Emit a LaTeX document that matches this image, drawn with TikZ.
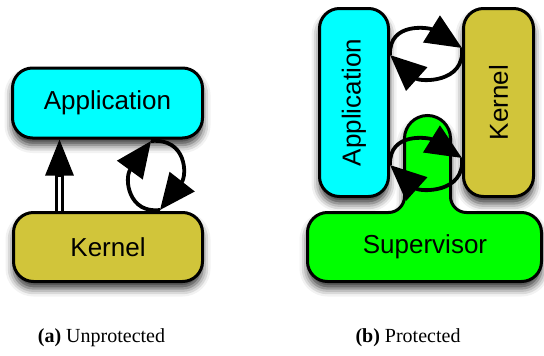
\documentclass[tikz,border=0pt]{standalone}
\usepackage{fontspec}
\setmainfont{Liberation Serif}
\setsansfont{Liberation Sans}
\usetikzlibrary{arrows.meta,shadows.blur}
\definecolor{appcyan}{RGB}{0,255,255}
\definecolor{kernolive}{RGB}{209,197,58}
\definecolor{supgreen}{RGB}{0,255,0}
\tikzset{
  boxshadow/.style={blur shadow={shadow xshift=0pt, shadow yshift=-7pt,
      shadow blur radius=8pt, shadow opacity=80}},
  box/.style={draw=black, line width=3pt, rounded corners=20pt, boxshadow,
      font=\sffamily\fontsize{26}{30}\selectfont, inner sep=0pt},
  loopline/.style={draw=black, opacity=1, line width=3.8pt,
      -{Triangle[length=36pt,width=31pt,fill=black]}},
  caption/.style={font=\fontsize{20}{24}\selectfont, anchor=base},
}
\begin{document}
\begin{tikzpicture}[x=1pt,y=1pt]
\useasboundingbox (0,0) rectangle (544,-356);

% ---------- (a) unprotected ----------
\node[box, fill=appcyan, minimum width=190pt, minimum height=70pt] (la) at (107.5,-103) {Application};
\node[box, fill=kernolive, minimum width=189pt, minimum height=69pt] (lk) at (108,-247) {Kernel};

% hollow upward arrow: double shaft, then the solid head
\draw[line width=2.5pt, double=white, double distance=3.5pt, shorten >=34pt]
  ([xshift=-48.5pt]lk.north) -- ([xshift=-48pt]la.south);
\draw[line width=3pt, -{Triangle[length=36pt,width=28pt]}, shorten <=34pt]
  ([xshift=-48.5pt]lk.north) -- ([xshift=-48pt]la.south);

% two-way exchange loop
\draw[loopline] ([shift={(52pt,1pt)}]lk.north)
  to[out=187,in=234,out distance=32pt,in distance=46pt] ([shift={(43.5pt,-1.5pt)}]la.south);
\draw[loopline] ([shift={(43.5pt,-1.5pt)}]la.south)
  to[out=5,in=52,out distance=36pt,in distance=44pt] ([shift={(52pt,1pt)}]lk.north);

% ---------- (b) protected ----------
\begin{scope}
\path[draw=black, line width=3pt, fill=supgreen, boxshadow]
  (327.5,-212.5) -- (388.5,-212.5) arc[start angle=270,end angle=360,radius=16]
  -- (404.5,-138.5) arc[start angle=180,end angle=0,radius=23]
  -- (450.5,-196.5) arc[start angle=180,end angle=270,radius=16]
  -- (521.5,-212.5) arc[start angle=90,end angle=0,radius=20]
  -- (541.5,-261.5) arc[start angle=0,end angle=-90,radius=20]
  -- (327.5,-281.5) arc[start angle=270,end angle=180,radius=20]
  -- (307.5,-232.5) arc[start angle=180,end angle=90,radius=20] -- cycle;
\end{scope}
\node[font=\sffamily\fontsize{26}{30}\selectfont] (sup) at (425,-247) {Supervisor};

\node[box, fill=appcyan, minimum width=69pt, minimum height=188pt] (ra) at (354,-102.5) {\rotatebox{90}{Application}};
\node[box, fill=kernolive, minimum width=70pt, minimum height=188pt] (rk) at (498.5,-102.5) {\rotatebox{90}{Kernel}};

% upper exchange loop (application <-> kernel)
\draw[loopline] ([yshift=47.5pt]ra.east)
  to[out=92,in=148,out distance=34pt,in distance=38pt] ([yshift=54.5pt]rk.west);
\draw[loopline] ([yshift=54.5pt]rk.west)
  to[out=275,in=318,out distance=36pt,in distance=40pt] ([yshift=47.5pt]ra.east);

% lower exchange loop, passing over the supervisor
\draw[loopline] ([yshift=-62.5pt]ra.east)
  to[out=92,in=148,out distance=34pt,in distance=38pt] ([yshift=-55.5pt]rk.west);
\draw[loopline] ([yshift=-55.5pt]rk.west)
  to[out=275,in=318,out distance=36pt,in distance=40pt] ([yshift=-62.5pt]ra.east);

% ---------- captions ----------
\node[caption] (capa) at (101.5,-342) {\textbf{(a)} Unprotected};
\node[caption] (capb) at (408,-342) {\textbf{(b)} Protected};
\end{tikzpicture}
\end{document}
